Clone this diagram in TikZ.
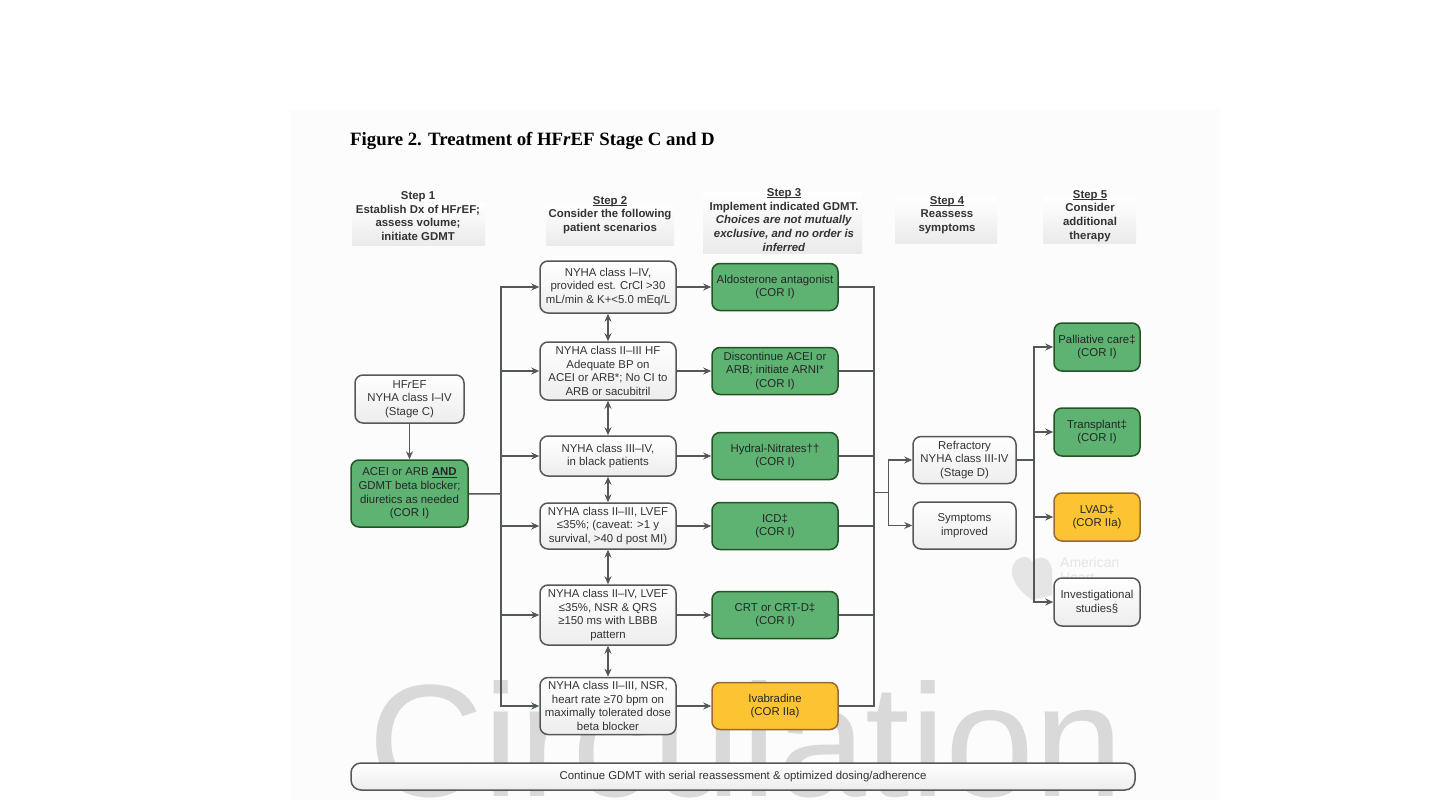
\documentclass[tikz,border=0pt]{standalone}
\usepackage{fontspec}
\setmainfont{Liberation Sans}
\newfontfamily\titlefont{Liberation Serif}
\usetikzlibrary{arrows.meta, positioning}
\definecolor{corgreen}{RGB}{94,178,114}
\definecolor{coryellow}{RGB}{252,196,50}
\definecolor{edgegray}{RGB}{85,88,88}
\newcommand{\ulstep}[1]{\setbox0\hbox{#1}\rlap{\rule[-1.7pt]{\wd0}{0.8pt}}\box0}

\begin{document}
\begin{tikzpicture}[x=1pt,y=-1pt,on grid,>={Stealth[length=8pt,width=7pt]},
      every node/.style={inner sep=0pt,align=center,text=black!80,font=\fontsize{11.4}{13.7}\selectfont},
      conn/.style={draw=edgegray,line width=1.5pt},
      plain/.style={draw=edgegray,line width=1.5pt,rounded corners=8pt,top color=white,bottom color=black!7},
      green/.style={draw=edgegray!70!green!60!black,line width=1.5pt,rounded corners=8pt,fill=corgreen,text=black!85},
      yellow/.style={draw=edgegray!60!orange,line width=1.5pt,rounded corners=8pt,fill=coryellow,text=black!85},
      scen/.style={plain,minimum width=136pt},
      gdmt/.style={minimum width=126pt,minimum height=47pt},
      reass/.style={plain,minimum width=103pt,minimum height=47pt},
      extra/.style={minimum width=86pt,minimum height=48pt},
      head/.style={top color=white,bottom color=black!8},
      steptext/.style={font=\bfseries\fontsize{11.4}{13.7}\selectfont},
      watermark/.style={text=black!15,font=\fontsize{160}{160}\selectfont}]
      \useasboundingbox (0,0) rectangle (1441,811);
      \fill[white] (0,0) rectangle (1441,811);
      \fill[black!1] (290,110) rectangle (1220,800);
      % watermark
      \node[watermark,anchor=base west] (wm) at (368,796) {Circulation};
      \node[anchor=west,align=left,text=black!10,font=\fontsize{14}{15}\selectfont] (aha) at (1060,570) {American\\Heart};
      \fill[black!10] (1032,600) .. controls (1010,585) and (1006,565) .. (1020,558)
        .. controls (1026,555) and (1030,558) .. (1032,562)
        .. controls (1036,556) and (1050,554) .. (1052,570) -- (1052,595) -- cycle;
      % heading bands
      \path[head] (352,203) rectangle (485,245);
      \path[head] (546,205) rectangle (674,245);
      \path[head] (703,192) rectangle (862,253);
      \path[head] (895,197) rectangle (997,243);
      \path[head] (1043,197) rectangle (1136,243);
      \node[anchor=west,text=black,font=\titlefont\bfseries\fontsize{18.8}{22}\selectfont] (title) at (350,141) {Figure 2. Treatment of HF\textit{r}EF Stage C and D};
      \node[steptext] (step_1) at (418,216) {Step 1\\Establish Dx of HF\textit{r}EF;\\assess volume;\\initiate GDMT};
      \node[steptext] (step_2) at (610,215) {\ulstep{Step 2}\\Consider the following\\patient scenarios};
      \node[steptext] (step_3) at (784,220) {\ulstep{Step 3}\\Implement indicated GDMT.\\\textit{Choices are not mutually}\\\textit{exclusive, and no order is}\\\textit{inferred}};
      \node[steptext] (step_4) at (947,215) {\ulstep{Step 4}\\Reassess\\symptoms};
      \node[steptext] (step_5) at (1090,216) {\ulstep{Step 5}\\Consider\\additional\\therapy};
      % step 1
      \node[plain,minimum width=109pt,minimum height=48pt] (hf) at (409.5,399) {HF\textit{r}EF\\NYHA class I--IV\\(Stage C)};
      \node[green,minimum width=117pt,minimum height=67pt] (acei) [below=94.5pt of hf] {ACEI or ARB \ulstep{\textbf{AND}}\\GDMT beta blocker;\\diuretics as needed\\(COR I)};
      % step 2
      \node[scen,minimum height=52pt] (scen_1) at (608,287) {NYHA class I--IV,\\provided est. CrCl >30\\mL/min \& K+<5.0 mEq/L};
      \node[scen,minimum height=58pt] (scen_2) [below=84pt of scen_1] {NYHA class II--III HF\\Adequate BP on\\ACEI or ARB*; No CI to\\ARB or sacubitril};
      \node[scen,minimum height=40pt] (scen_3) [below=85pt of scen_2] {NYHA class III--IV,\\in black patients};
      \node[scen,minimum height=46pt] (scen_4) [below=70pt of scen_3] {NYHA class II--III, LVEF\\≤35\%; (caveat: >1 y\\survival, >40 d post MI)};
      \node[scen,minimum height=60pt] (scen_5) [below=89pt of scen_4] {NYHA class II--IV, LVEF\\≤35\%, NSR \& QRS\\≥150 ms with LBBB\\pattern};
      \node[scen,minimum height=57pt] (scen_6) [below=91pt of scen_5] {NYHA class II--III, NSR,\\heart rate ≥70 bpm on\\maximally tolerated dose\\beta blocker};
      % step 3
      \node[green,gdmt] (gdmt_1) [right=167pt of scen_1] {Aldosterone antagonist\\(COR I)};
      \node[green,gdmt] (gdmt_2) [right=167pt of scen_2] {Discontinue ACEI or\\ARB; initiate ARNI*\\(COR I)};
      \node[green,gdmt] (gdmt_3) [right=167pt of scen_3] {Hydral-Nitrates††\\(COR I)};
      \node[green,gdmt] (gdmt_4) [right=167pt of scen_4] {ICD‡\\(COR I)};
      \node[green,gdmt] (gdmt_5) [right=167pt of scen_5] {CRT or CRT-D‡\\(COR I)};
      \node[yellow,gdmt] (gdmt_6) [right=167pt of scen_6] {Ivabradine\\(COR IIa)};
      % buses
      \coordinate (bus_0) at (501,494);
      \coordinate [left=107pt of scen_1] (bus_1);
      \coordinate [left=107pt of scen_2] (bus_2);
      \coordinate [left=107pt of scen_3] (bus_3);
      \coordinate [left=107pt of scen_4] (bus_4);
      \coordinate [left=107pt of scen_5] (bus_5);
      \coordinate [left=107pt of scen_6] (bus_6);
      \coordinate [right=99pt of gdmt_1] (sum_1);
      \coordinate [right=99pt of gdmt_2] (sum_2);
      \coordinate [right=99pt of gdmt_3] (sum_3);
      \coordinate [right=99pt of gdmt_4] (sum_4);
      \coordinate [right=99pt of gdmt_5] (sum_5);
      \coordinate [right=99pt of gdmt_6] (sum_6);
      \coordinate (sum_0) at (874,492.5);
      \coordinate (split) at (888.5,492.5);
      % step 4 and 5
      \node[reass] (refr) at (964.5,460) {Refractory\\NYHA class III-IV\\(Stage D)};
      \node[reass] (impr) [below=65.5pt of refr] {Symptoms\\improved};
      \coordinate (fork) at (1034,460);
      \node[green,extra] (pall) at (1097,347) {Palliative care‡\\(COR I)};
      \node[green,extra] (tran) [below=85pt of pall] {Transplant‡\\(COR I)};
      \node[yellow,extra] (lvad) [below=85pt of tran] {LVAD‡\\(COR IIa)};
      \node[plain,extra] (inve) [below=85pt of lvad] {Investigational\\studies§};
      \node[plain,minimum width=784pt,minimum height=27pt,rounded corners=10pt] (cont) at (743,776.5) {Continue GDMT with serial reassessment \& optimized dosing/adherence};
      % connectors
      \path[conn] (hf) edge[->] (acei);
      \path[conn] (acei) edge (bus_0);
      \draw[conn,line cap=rect] (bus_1) -- (bus_6);
      \path[conn] (bus_1) edge[->] (scen_1) (bus_2) edge[->] (scen_2) (bus_3) edge[->] (scen_3)
      (bus_4) edge[->] (scen_4) (bus_5) edge[->] (scen_5) (bus_6) edge[->] (scen_6);
      \path[conn] (scen_1) edge[<->] (scen_2) (scen_2) edge[<->] (scen_3) (scen_3) edge[<->] (scen_4)
      (scen_4) edge[<->] (scen_5) (scen_5) edge[<->] (scen_6);
      \path[conn] (scen_1) edge[->] (gdmt_1) (scen_2) edge[->] (gdmt_2) (scen_3) edge[->] (gdmt_3)
      (scen_4) edge[->] (gdmt_4) (scen_5) edge[->] (gdmt_5) (scen_6) edge[->] (gdmt_6);
      \path[conn] (gdmt_1) edge (sum_1) (gdmt_2) edge (sum_2) (gdmt_3) edge (sum_3)
      (gdmt_4) edge (sum_4) (gdmt_5) edge (sum_5) (gdmt_6) edge (sum_6)
      (sum_0) edge (split);
      \draw[conn,line cap=rect] (sum_1) -- (sum_6);
      \draw[conn,->] (split) |- (refr);
      \draw[conn,->] (split) |- (impr);
      \path[conn] (refr) edge (fork);
      \draw[conn,->] (fork) |- (pall);
      \draw[conn,->] (fork) |- (tran);
      \draw[conn,->] (fork) |- (lvad);
      \draw[conn,->] (fork) |- (inve);
    \end{tikzpicture}
\end{document}
